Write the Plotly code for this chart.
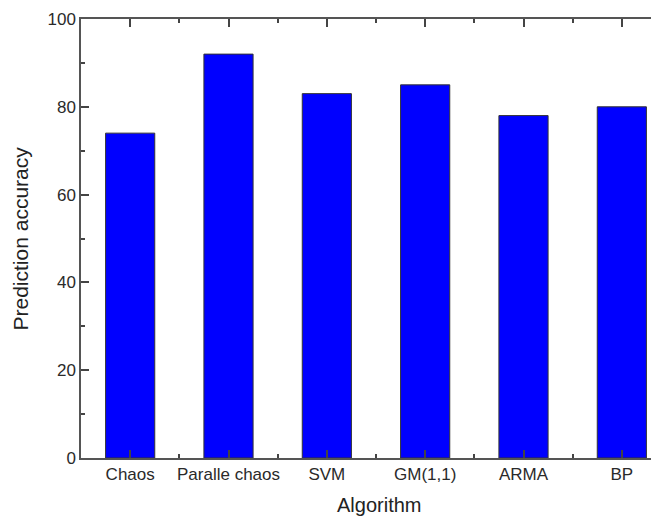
import plotly.graph_objects as go

categories = ["Chaos", "Paralle chaos", "SVM", "GM(1,1)", "ARMA", "BP"]
accuracy = [74, 92, 83, 85, 78, 80]
y_ticks = [0, 20, 40, 60, 80, 100]

positions = list(range(len(categories)))

FONT = "Liberation Sans, Arial, sans-serif"

fig = go.Figure()
fig.add_trace(go.Bar(
    x=positions, y=accuracy, width=0.5,
    marker=dict(color="#0000FF", line=dict(color="#333333", width=1)),
))

axis_common = dict(
    showline=True, linecolor="#555555", linewidth=1.5, mirror="ticks",
    ticks="inside", tickcolor="#444444", tickwidth=1.5, ticklen=8,
    showgrid=False, zeroline=False, automargin=False,
    tickfont=dict(family=FONT, size=17, color="#2a2a2a"),
)

fig.update_xaxes(
    **axis_common,
    range=[-0.5, 5.5],
    tickvals=positions, ticktext=categories,
    minor=dict(ticks="inside", tick0=0.5, dtick=1, ticklen=4, tickcolor="#444444", tickwidth=1.5),
)
fig.update_yaxes(
    **axis_common,
    range=[0, 100],
    tickvals=y_ticks,
    minor=dict(ticks="inside", dtick=10, ticklen=4, tickcolor="#444444", tickwidth=1.5),
)

fig.add_annotation(
    text="Algorithm", xref="paper", yref="paper", x=0.5, y=0,
    xanchor="center", yanchor="middle", xshift=3, yshift=-47,
    showarrow=False, font=dict(family=FONT, size=20, color="#222222"),
)
fig.add_annotation(
    text="Prediction accuracy", xref="paper", yref="paper", x=0, y=0.5,
    xanchor="center", yanchor="middle", xshift=-61, textangle=-90,
    showarrow=False, font=dict(family=FONT, size=21, color="#222222"),
)

fig.update_layout(
    width=680, height=517,
    margin=dict(l=73, r=17, t=11, b=67),
    plot_bgcolor="white", paper_bgcolor="white",
    showlegend=False,
)

fig.write_html("out.html")
